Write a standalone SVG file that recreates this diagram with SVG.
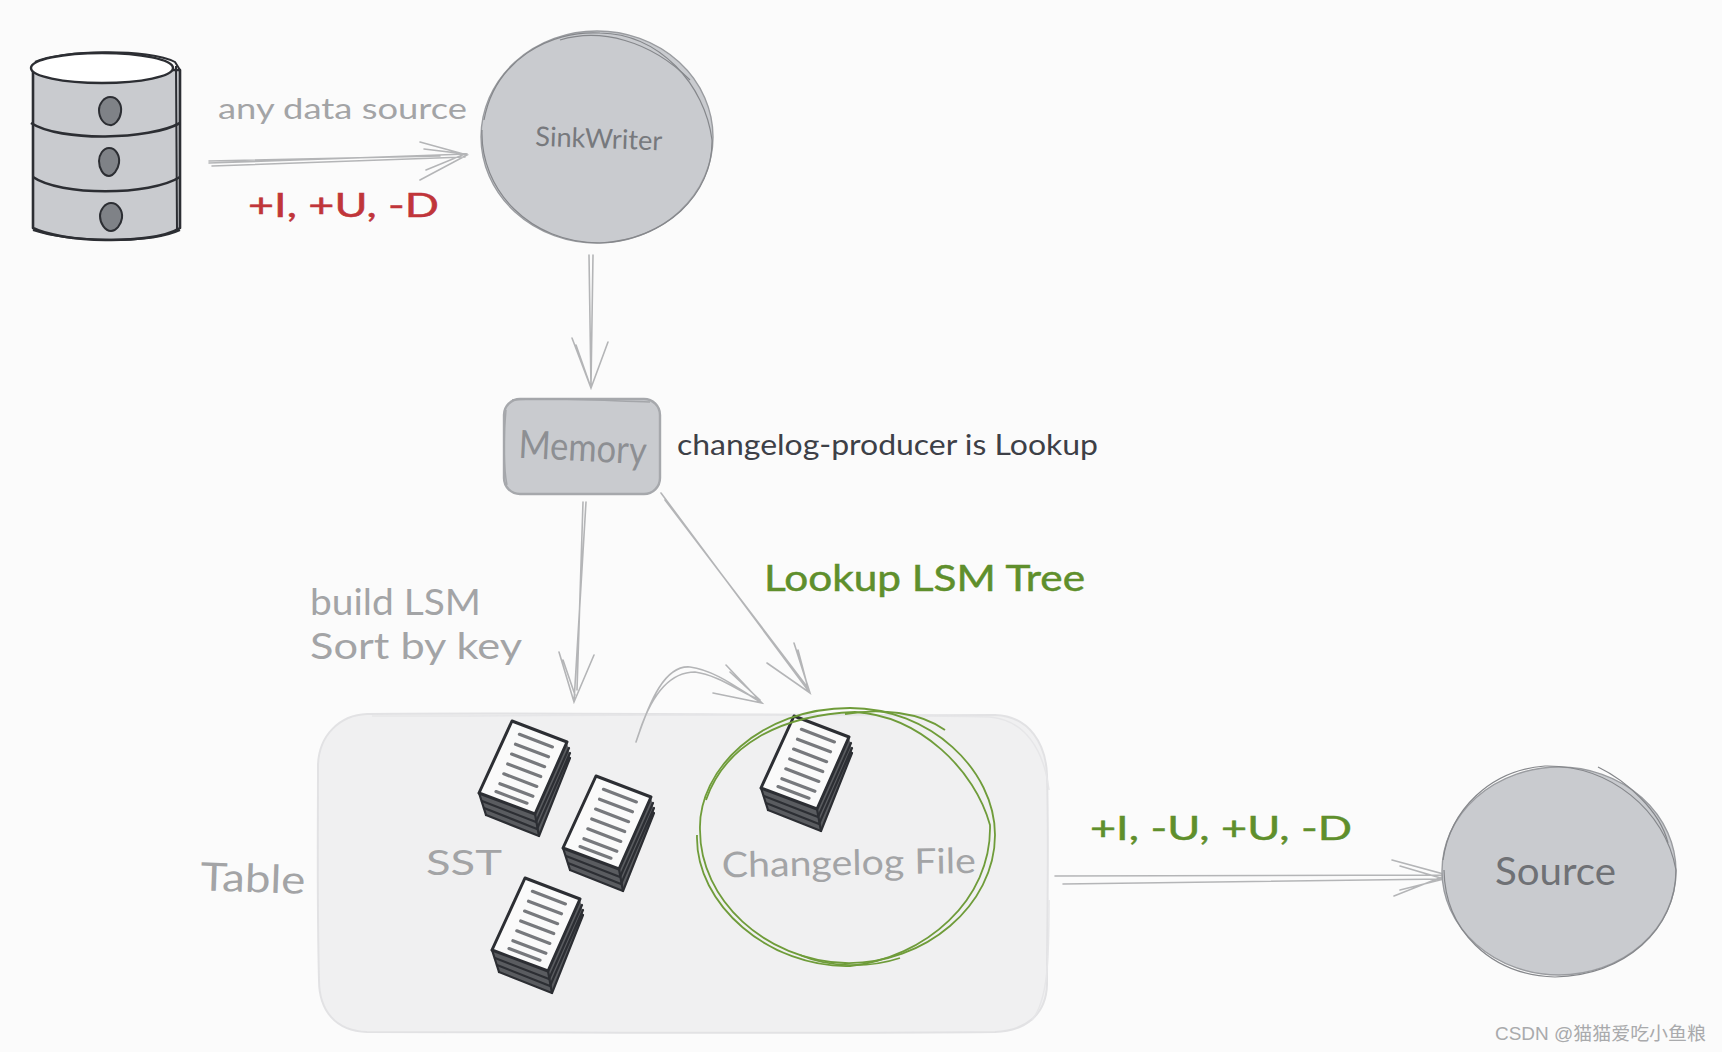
<svg xmlns="http://www.w3.org/2000/svg" xmlns:xlink="http://www.w3.org/1999/xlink" width="1722" height="1052" viewBox="0 0 1722 1052">
<style>
.t{font-family:"Lato","Noto Sans",sans-serif;font-weight:400}
.gray{fill:#a3a4a6}
.green{fill:#5f8f2c;stroke:#5f8f2c;stroke-width:.5}
.red{fill:#c0353a;stroke:#c0353a;stroke-width:.5}
.disk{fill:#c9cbcf;stroke:#9a9ca0;stroke-width:1.4}
.sk{fill:none;stroke:#85878b;stroke-width:1.2}
.conn{fill:none;stroke:#b4b5b7;stroke-width:1.6;stroke-linecap:round}
.dark{fill:none;stroke:#2c2e33;stroke-width:2.2;stroke-linejoin:round;stroke-linecap:round}
.gc{fill:none;stroke:#6f9c3a;stroke-width:1.8}
</style>
<defs>
<g id="doc">
<path d="M-33 72 L-26 94 L27 115 L58 37 L55 21 L23 93 Z" fill="#5a5c60"/>
<path d="M-30 80 L24 101 L57 27 M-28 87 L25 108 L58 32 M-26 94 L27 115 L58 37" class="dark"/>
<path d="M-33 72 L-26 94 M23 93 L27 115" class="dark"/>
<path d="M0 0 L55 21 L23 93 L-33 72 Z" fill="#fafafa" stroke="#2c2e33" stroke-width="3" stroke-linejoin="round"/>
<path d="M7.400 13.300 L40.400 25.900 M3.500 23.200 L36.500 35.800 M-.4 33.100 L32.600 45.700 M-4.300 43 L28.700 55.600 M-8.200 52.800 L24.800 65.400 M-12.100 62.700 L20.900 75.300 M-16 70.600 L15 82.200" fill="none" stroke="#77797d" stroke-width="3.200" stroke-linecap="round"/>
</g>
</defs>
<rect width="1722" height="1052" fill="#fbfbfb"/>

<g id="table">
<path d="M367 714 C550 712 800 716 995 715 C1030 716 1046 745 1047 775 C1049 850 1047 920 1047 985 C1046 1015 1025 1031 995 1032 C800 1034 560 1032 367 1032 C335 1031 319 1010 319 980 C317 900 318 840 318 765 C319 735 340 715 367 714 Z" fill="#f0f0f1" stroke="#e2e2e4" stroke-width="2"/>
<path d="M372 716 C560 716 790 713 990 717 C1025 720 1044 750 1049 790 M1049 900 C1049 960 1048 1000 1032 1020" fill="none" stroke="#e6e6e8" stroke-width="1.500"/>
<text class="t gray" x="200" y="892" font-size="39" textLength="105" lengthAdjust="spacingAndGlyphs" transform="rotate(2 252 892)">Table</text>
<text class="t gray" x="426" y="875" font-size="35" textLength="76" lengthAdjust="spacingAndGlyphs">SST</text>
</g>

<g id="connectors">
<path class="conn" d="M209 163 L467 154 M212 166 L465 157 M209 161 L440 156 M420 142 L467 155 L420 180 M424 149 L465 154 L426 170"/>
<path class="conn" d="M589 255 L591 388 M593 255 L591 385 M572 338 L591 388 L608 342 M576 345 L590 385"/>
<path class="conn" d="M586 502 L574 702 M583 502 L577 690 M559 652 L574 702 L594 655 M563 660 L575 695"/>
<path class="conn" d="M661 493 L810 693 M665 500 L808 688 M794 643 L810 693 L767 663 M798 650 L808 688"/>
<path class="conn" d="M636 742 C650 700 665 665 690 667 C715 670 740 690 762 703 M640 730 C652 695 670 672 695 672 C718 675 740 692 760 700 M726 665 L762 703 L713 693 M730 672 L760 700"/>
<path class="conn" d="M1055 876 L1447 875 M1063 884 L1444 879 M1392 860 L1447 875 L1394 896 M1400 866 L1444 879 L1400 890"/>
</g>

<g id="database">
<path d="M33 70 L33 228 C60 242 150 246 180 228 L180 70 Z" fill="#c9cbcf" stroke="#2c2e33" stroke-width="2.600" stroke-linejoin="round"/>
<path d="M35 62 C60 50 150 48 175 62 L180 70 L180 228 M176 66 L177 230" fill="none" stroke="#2c2e33" stroke-width="2"/>
<ellipse cx="102" cy="68" rx="71" ry="15" fill="#fff" stroke="#2c2e33" stroke-width="2.400"/>
<path d="M31 123 C60 142 150 140 180 123 M33 177 C60 196 150 196 180 177" fill="none" stroke="#2c2e33" stroke-width="2.600"/>
<path d="M33 230 C70 242 150 244 180 230" fill="none" stroke="#2c2e33" stroke-width="2"/>
<path d="M110 97 C118 97 122 105 121 112 C120 120 114 126 110 125 C104 125 99 118 99 110 C99 104 104 97 110 97 Z" fill="#7f8287" stroke="#2c2e33" stroke-width="2"/>
<path d="M109 148 C116 148 120 156 119 163 C118 170 113 176 109 176 C103 176 99 168 99 161 C99 155 103 148 109 148 Z" fill="#7f8287" stroke="#2c2e33" stroke-width="2"/>
<path d="M111 203 C118 203 123 211 122 218 C121 225 116 231 111 231 C105 231 100 223 100 216 C100 210 105 203 111 203 Z" fill="#7f8287" stroke="#2c2e33" stroke-width="2"/>
</g>

<g id="sinkwriter">
<ellipse class="disk" cx="597" cy="137" rx="116" ry="106"/>
<path class="sk" d="M484 120 C495 60 550 30 600 33 C660 34 705 85 712 140 C713 195 665 240 600 243 C530 243 480 190 482 130"/>
<path class="sk" d="M560 40 C600 28 650 40 690 80"/>
<text class="t" fill="#77797d" x="535" y="148" font-size="27" textLength="127" lengthAdjust="spacingAndGlyphs" transform="rotate(2 598 148)">SinkWriter</text>
</g>

<g id="memory">
<rect x="504" y="399" width="156" height="95" rx="16" fill="#c9cbcf" stroke="#a6a8ac" stroke-width="2.400"/>
<path d="M512 400 C550 397 610 401 650 402 M506 410 C503 440 504 470 507 485" fill="none" stroke="#a4a6aa" stroke-width="1.400"/>
<text class="t" fill="#8d8f93" x="518" y="461" font-size="39" textLength="128" lengthAdjust="spacingAndGlyphs" transform="rotate(3 582 461)">Memory</text>
</g>

<g id="sst-files">
<use href="#doc" x="512" y="721"/>
<use href="#doc" x="596" y="776"/>
<use href="#doc" x="525" y="878"/>
</g>

<g id="changelog">
<use href="#doc" x="794" y="716"/>
<path class="gc" d="M700 830 C698 770 760 708 850 708 C930 708 995 770 995 835 C995 905 925 965 845 963 C765 960 700 900 700 830 Z"/>
<path class="gc" d="M706 800 C725 745 780 715 855 712 C920 716 975 770 990 825 C992 900 925 958 850 966 C770 968 695 905 697 835"/>
<path class="gc" d="M845 714 C880 708 920 712 945 730 M900 958 C870 968 830 968 800 955"/>
<text class="t gray" x="722" y="875" font-size="35" textLength="254" lengthAdjust="spacingAndGlyphs" transform="rotate(-1 849 875)">Changelog File</text>
</g>

<g id="source">
<ellipse class="disk" cx="1559" cy="871" rx="117" ry="104"/>
<path class="sk" d="M1443 860 C1450 810 1490 770 1545 766 C1610 765 1665 810 1676 870 C1676 930 1625 975 1555 977 C1490 975 1445 930 1444 870"/>
<path class="sk" d="M1598 767 C1625 780 1660 810 1668 843"/>
<text class="t" fill="#6f7175" x="1495" y="885" font-size="38" textLength="121" lengthAdjust="spacingAndGlyphs">Source</text>
</g>

<g id="labels">
<text class="t gray" x="218" y="119" font-size="29" textLength="249" lengthAdjust="spacingAndGlyphs">any data source</text>
<text class="t red" x="248" y="217" font-size="33" textLength="191" lengthAdjust="spacingAndGlyphs">+I, +U, -D</text>
<text class="t" fill="#3d4047" x="677" y="455" font-size="29" textLength="421" lengthAdjust="spacingAndGlyphs">changelog-producer is Lookup</text>
<text class="t green" x="764" y="591" font-size="36" textLength="321" lengthAdjust="spacingAndGlyphs">Lookup LSM Tree</text>
<text class="t gray" x="310" y="615" font-size="36" textLength="171" lengthAdjust="spacingAndGlyphs">build LSM</text>
<text class="t gray" x="310" y="659" font-size="36" textLength="212" lengthAdjust="spacingAndGlyphs">Sort by key</text>
<text class="t green" x="1090" y="840" font-size="33" textLength="262" lengthAdjust="spacingAndGlyphs">+I, -U, +U, -D</text>
<text x="1495" y="1040" font-size="18.500" fill="#a9aaac" font-family="'Liberation Sans','Noto Sans CJK SC',sans-serif" textLength="211" lengthAdjust="spacingAndGlyphs">CSDN @猫猫爱吃小鱼粮</text>
</g>
</svg>
